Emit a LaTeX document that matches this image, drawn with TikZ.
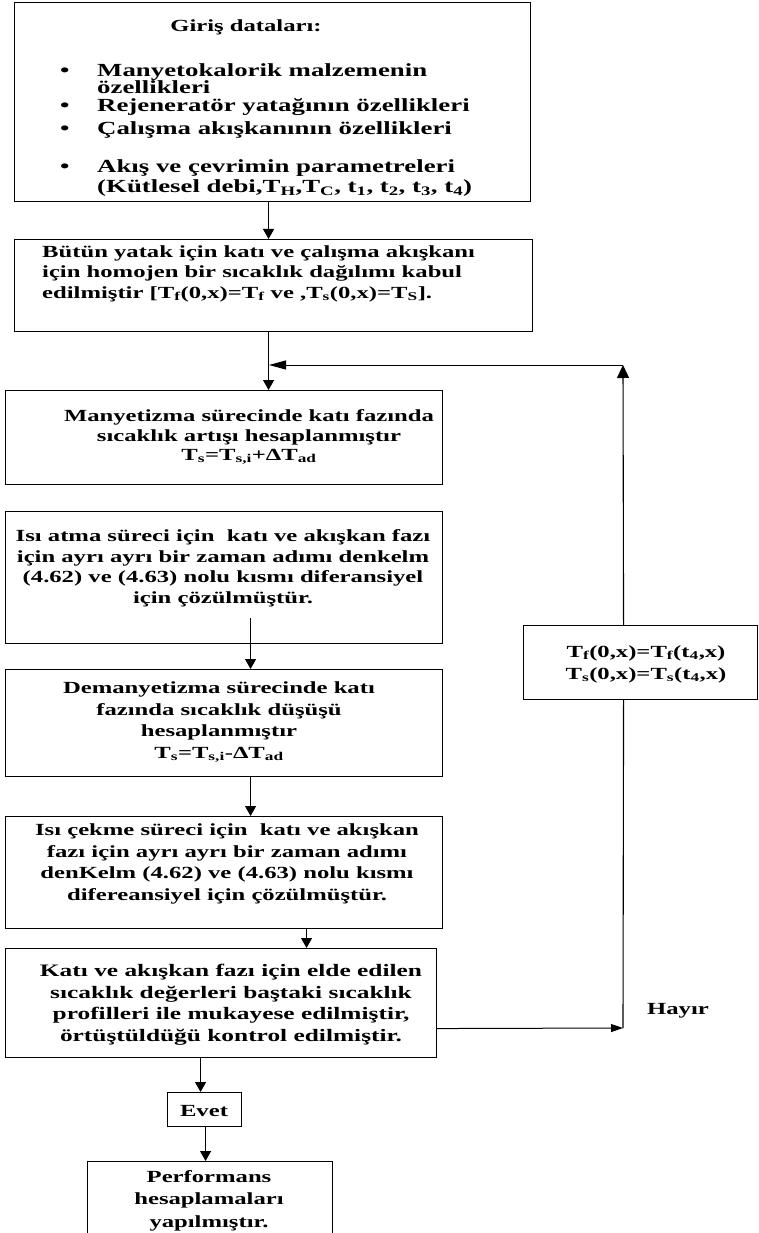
\documentclass[tikz,border=0pt]{standalone}
\usepackage{fontspec}
\setmainfont{Liberation Serif}[FakeStretch=1.45]
\usetikzlibrary{arrows.meta}

\begin{document}
\begin{tikzpicture}[x=1pt,y=-1pt,
kutu/.style={draw,line width=1.1pt,inner sep=0pt,anchor=north west},
yazi/.style={align=center,inner sep=0pt,anchor=base,font=\fontsize{17}{20.5}\selectfont\bfseries},
ok/.style={-{Triangle[length=10pt,width=11pt]},line width=1.1pt}]
\useasboundingbox (0,0) rectangle (758,1233);
% kutular
\node[kutu,minimum width=516pt,minimum height=199pt] (giris) at (14,2) {};
\node[kutu,minimum width=518pt,minimum height=92pt] (homojen) at (14,239) {};
\node[kutu,minimum width=437pt,minimum height=94pt] (manyet) at (5,390) {};
\node[kutu,minimum width=437pt,minimum height=132pt] (atma) at (5,511) {};
\node[kutu,minimum width=437pt,minimum height=107pt] (deman) at (5,669) {};
\node[kutu,minimum width=437pt,minimum height=112pt] (cekme) at (5,816) {};
\node[kutu,minimum width=431pt,minimum height=109pt] (kontrol) at (5,948) {};
\node[kutu,minimum width=74pt,minimum height=34pt] (evet) at (167,1092) {};
\node[kutu,minimum width=245pt,minimum height=76pt] (perf) at (87,1161) {};
\node[kutu,minimum width=234pt,minimum height=74pt] (sinir) at (523,625) {};
% yazilar (base = son satirin tabani)
\node[yazi] (girisB) at (246,32) {Giriş dataları:};
\node[yazi,align=left,anchor=base west,font=\fontsize{18.5}{20.5}\selectfont\bfseries] (girisL) at (60,193) {\makebox[37pt][l]{\textbullet}Manyetokalorik malzemenin\\[-3pt]
\hspace*{37pt}özellikleri\\[-3pt]
\makebox[37pt][l]{\textbullet}Rejeneratör yatağının özellikleri\\[3pt]
\makebox[37pt][l]{\textbullet}Çalışma akışkanının özellikleri\\[17.5pt]
\makebox[37pt][l]{\textbullet}Akış ve çevrimin parametreleri\\[-0.5pt]
\hspace*{37pt}(Kütlesel debi,T\textsubscript{H},T\textsubscript{C}, t\textsubscript{1}, t\textsubscript{2}, t\textsubscript{3}, t\textsubscript{4})};
\node[yazi,align=left,anchor=base west] (homojenY) at (42,298) {Bütün yatak için katı ve çalışma akışkanı\\[-0.5pt]
için homojen bir sıcaklık dağılımı kabul\\[-0.5pt]
edilmiştir [T\textsubscript{f}(0,x)=T\textsubscript{f} ve ,T\textsubscript{s}(0,x)=T\textsubscript{S}].};
\node[yazi] (manyetY) at (249,460) {Manyetizma sürecinde katı fazında\\[-1pt]
sıcaklık artışı hesaplanmıştır\\[-1.5pt]
T\textsubscript{s}=T\textsubscript{s,i}+ΔT\textsubscript{ad}};
\node[yazi] (atmaY) at (223,603) {Isı atma süreci için\ \ katı ve akışkan fazı\\
için ayrı ayrı bir zaman adımı denkelm\\
(4.62) ve (4.63) nolu kısmı diferansiyel\\
için çözülmüştür.};
\node[yazi] (demanY) at (219,758) {Demanyetizma sürecinde katı\\[1pt]
fazında sıcaklık düşüşü\\[1pt]
hesaplanmıştır\\[1pt]
T\textsubscript{s}=T\textsubscript{s,i}-ΔT\textsubscript{ad}};
\node[yazi] (cekmeY) at (227,900) {Isı çekme süreci için\ \ katı ve akışkan\\[1pt]
fazı için ayrı ayrı bir zaman adımı\\[1pt]
denKelm (4.62) ve (4.63) nolu kısmı\\[1pt]
difereansiyel için çözülmüştür.};
\node[yazi,font=\fontsize{17.5}{20.5}\selectfont\bfseries] (kontrolY) at (231,1041) {Katı ve akışkan fazı için elde edilen\\[1pt]
sıcaklık değerleri baştaki sıcaklık\\[1pt]
profilleri ile mukayese edilmiştir,\\[1pt]
örtüştüldüğü kontrol edilmiştir.};
\node[yazi] (evetY) at (204,1116) {Evet};
\node[yazi] (perfY) at (209,1227) {Performans\\[2pt]
hesaplamaları\\[2pt]
yapılmıştır.};
\node[yazi] (sinirY) at (646,679) {T\textsubscript{f}(0,x)=T\textsubscript{f}(t\textsubscript{4},x)\\[1.5pt]
T\textsubscript{s}(0,x)=T\textsubscript{s}(t\textsubscript{4},x)};
\node[yazi] (hayir) at (678,1014) {Hayır};
% baglantilar
\coordinate (donus) at (623,365);
\coordinate (birles) at (269,365);
\coordinate (hayirk) at (623,1028);
\draw[ok] ([xshift=-4pt]giris.south) -- ([xshift=-4pt]giris.south |- homojen.north);
\draw[ok] ([xshift=-5pt]homojen.south) -- ([xshift=-5pt]homojen.south |- manyet.north);
\draw[-{Triangle[length=13pt,width=12pt]},line width=1.1pt] ([xshift=-17pt]sinir.north) -- (donus);
\draw[-{Triangle[length=17pt,width=9pt]},line width=1pt] (donus) -- (birles);
\draw[ok] ([xshift=26.5pt,yshift=26pt]atma.south) -- ([xshift=26.5pt]atma.south |- deman.north);
\draw[ok] ([xshift=26.5pt]deman.south) -- ([xshift=26.5pt]deman.south |- cekme.north);
\draw[ok] ([xshift=82.5pt]cekme.south) -- ([xshift=82.5pt]cekme.south |- kontrol.north);
\draw[ok] ([xshift=-20.5pt]kontrol.south) -- ([xshift=-20.5pt]kontrol.south |- evet.north);
\draw[ok] ([xshift=1pt]evet.south) -- ([xshift=1pt]evet.south |- perf.north);
\draw[-{Triangle[length=12pt,width=8pt]},line width=1pt] ([yshift=-25.5pt]kontrol.east) -- (hayirk);
\draw[line width=1.1pt] (hayirk) -- ([xshift=-17pt]sinir.south);
\end{tikzpicture}
\end{document}
